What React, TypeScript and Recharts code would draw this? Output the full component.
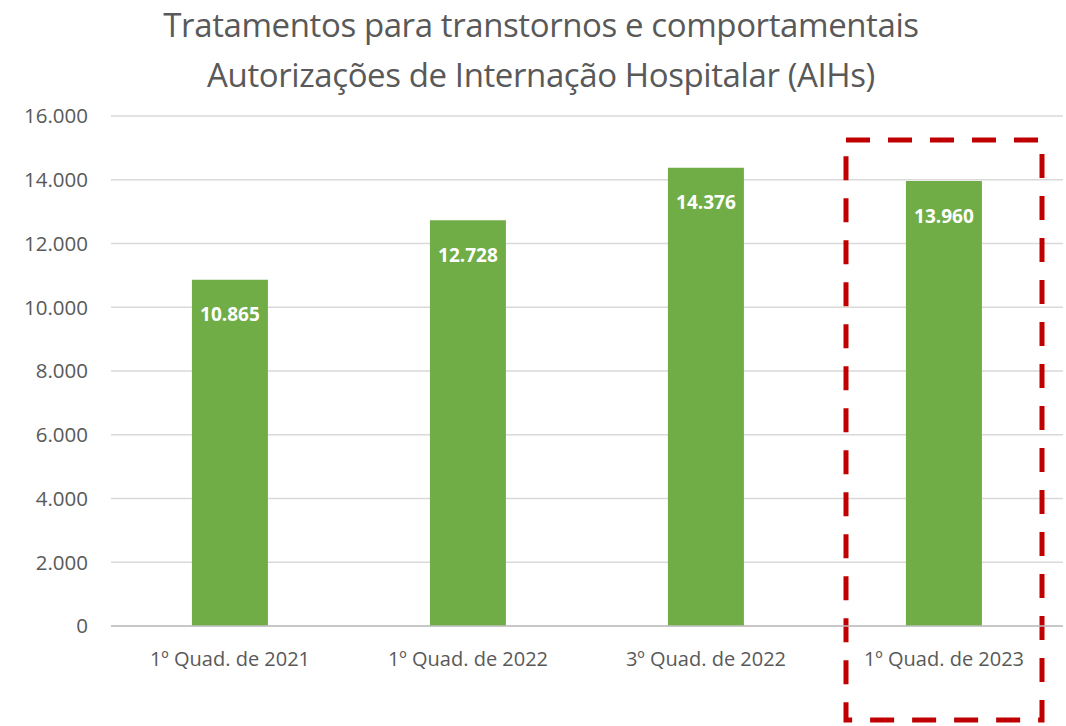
import React from "react";
import { BarChart, Bar, XAxis, YAxis, CartesianGrid, LabelList, ReferenceArea } from "recharts";

const categories = ["1º Quad. de 2021", "1º Quad. de 2022", "3º Quad. de 2022", "1º Quad. de 2023"];
const aihValues = [10865, 12728, 14376, 13960];
const yTicks = [0, 2000, 4000, 6000, 8000, 10000, 12000, 14000, 16000];
const titleLines = ["Tratamentos para transtornos e comportamentais", "Autorizações de Internação Hospitalar (AIHs)"];
const highlighted = "1º Quad. de 2023";

const data = categories.map((c, i) => ({ name: c, value: aihValues[i] }));
const fmt = (v: number) => v.toLocaleString("pt-BR");
const FONT = "'Open Sans', 'Noto Sans', sans-serif";

const DashedBox = (props: any) => {
  const { x, y, width, height } = props;
  const inset = 21;
  return (
    <rect
      x={x + inset}
      y={y}
      width={width - inset * 2}
      height={height}
      fill="none"
      stroke="#C00000"
      strokeWidth={5}
      strokeDasharray="24 18"
    />
  );
};

export default function App() {
  return (
    <div style={{ position: "absolute", left: 0, top: 0, width: 1066, height: 726, background: "#fff", fontFamily: FONT }}>
      <div style={{ position: "absolute", left: 0, top: 0, width: 1082, textAlign: "center", color: "#595959", fontSize: 33, lineHeight: "50px", letterSpacing: -0.4 }}>
        {titleLines.map((t) => (
          <div key={t}>{t}</div>
        ))}
      </div>
      <BarChart
        width={1066}
        height={726}
        data={data}
        margin={{ top: 116, right: 3, bottom: 70, left: 0 }}
        barCategoryGap="34%"
      >
        <CartesianGrid vertical={false} stroke="#d9d9d9" strokeWidth={1.5} />
        <XAxis
          dataKey="name"
          height={30}
          tickLine={false}
          axisLine={{ stroke: "#bfbfbf", strokeWidth: 1.5 }}
          tick={{ fill: "#595959", fontSize: 20, fontFamily: FONT }}
          tickMargin={20}
          interval={0}
        />
        <YAxis
          width={111}
          domain={[0, 16000]}
          ticks={yTicks}
          tickFormatter={fmt}
          tickLine={false}
          axisLine={false}
          tickSize={0}
          tickMargin={23}
          tick={{ fill: "#595959", fontSize: 20.5, fontFamily: FONT }}
        />
        <Bar dataKey="value" fill="#70AD47" isAnimationActive={false}>
          <LabelList
            dataKey="value"
            position="insideTop"
            offset={28}
            formatter={(v: any) => fmt(Number(v))}
            style={{ fill: "#ffffff", fontWeight: 700, fontSize: 19, fontFamily: FONT }}
          />
        </Bar>
        <ReferenceArea
          x1={highlighted}
          x2={highlighted}
          y1={-2950}
          y2={15250}
          ifOverflow="visible"
          shape={<DashedBox />}
        />
      </BarChart>
    </div>
  );
}
